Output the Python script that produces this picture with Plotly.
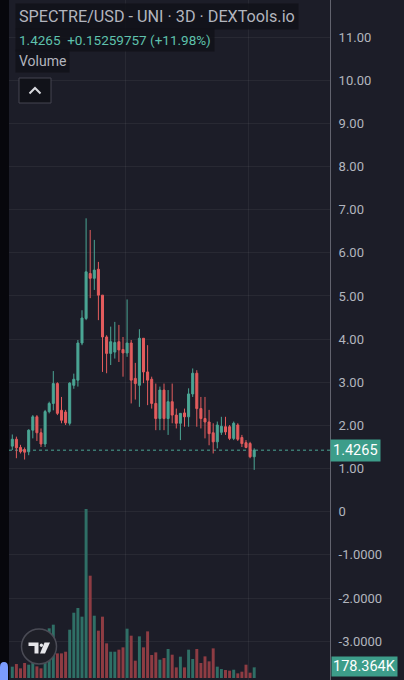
import plotly.graph_objects as go

# ---------------- data ----------------
candle_idx = list(range(1, 61))
opens  = [1.52,1.68,1.49,1.44,1.39,1.89,2.20,1.83,1.57,2.32,2.51,2.97,2.35,2.31,2.05,2.93,3.05,3.91,4.48,5.52,
          5.41,5.62,5.02,4.05,3.67,3.70,3.94,3.76,3.68,3.91,3.09,2.93,4.02,3.24,3.07,2.51,2.16,2.82,2.16,2.55,
          2.24,2.05,2.29,2.20,2.73,3.21,2.39,2.16,2.08,1.83,1.62,1.84,1.97,1.97,1.70,2.01,1.72,1.60,1.58,1.2739]
highs  = [1.79,1.74,1.55,1.49,1.91,2.24,2.24,1.93,2.36,2.55,3.26,3.00,2.66,2.36,3.00,3.20,3.98,4.67,6.80,6.53,
          6.30,5.79,5.02,4.09,4.29,4.40,4.33,4.05,4.92,3.98,3.45,4.23,4.02,3.86,3.13,2.97,2.90,2.97,2.82,2.97,
          2.39,2.28,2.39,2.86,3.32,3.28,2.66,2.66,2.36,2.05,2.09,2.20,2.20,2.01,2.09,2.05,1.78,1.66,1.62,1.47]
lows   = [1.43,1.24,1.35,1.21,1.31,1.70,1.64,1.50,1.50,2.28,2.35,2.24,2.05,2.01,2.00,2.85,2.90,3.86,4.44,4.95,
          5.14,4.44,3.24,3.21,3.40,3.55,3.47,3.13,3.59,2.51,2.60,2.43,2.98,2.47,2.39,1.89,1.89,1.89,1.78,2.05,
          1.93,1.66,1.97,1.97,2.66,1.97,1.93,1.70,1.54,1.35,1.47,1.78,1.78,1.66,1.66,1.64,1.50,1.47,1.24,0.97]
closes = [1.68,1.48,1.39,1.38,1.89,2.20,1.83,1.57,2.32,2.51,2.97,2.28,2.12,2.06,2.98,3.07,3.91,4.49,5.56,5.41,
          5.60,5.02,4.05,3.67,3.94,3.92,3.75,3.68,3.91,3.05,2.97,4.02,3.24,3.05,2.51,2.16,2.82,2.16,2.55,2.24,
          2.05,2.28,2.20,2.73,3.21,2.39,2.16,2.08,1.81,1.62,2.01,1.98,1.85,1.70,2.05,1.68,1.58,1.49,1.2739,1.4265]
volume_k = [190,234,162,251,223,251,195,162,262,831,892,412,412,440,808,1092,1171,1026,2826,1711,
            1042,792,1026,580,440,440,474,513,825,708,290,697,513,780,385,429,307,334,485,390,
            178,357,178,474,318,485,251,362,279,496,190,150,134,123,139,78,106,223,89,178.364]

y_tickvals = [-3, -2, -1, 0, 1, 2, 3, 4, 5, 6, 7, 8, 9, 10, 11]
y_ticktext = ["-3.0000", "-2.0000", "-1.0000", "0", "1.00", "2.00", "3.00", "4.00", "5.00",
              "6.00", "7.00", "8.00", "9.00", "10.00", "11.00"]

title_text = "SPECTRE/USD - UNI · 3D · DEXTools.io"
change_text = "1.4265  +0.15259757 (+11.98%)"
volume_label = "Volume"
last_price_text = "1.4265"
last_volume_text = "178.364K"

# ---------------- style ----------------
BG = "#1c1d28"
GREEN = "#4ba694"
RED = "#e35c5d"
VGREEN = "#2f6f66"
VRED = "#8e3c43"
TXT = "#b2b5be"
GRID = "rgba(255,255,255,0.055)"
FONT = "Roboto"

W, H = 404, 680
ML, MR, MT, MB = 9, 74, 0, 0
PW = W - ML - MR
PH = H - MT - MB


def px(x):
    return (x - ML) / PW


def py(y):
    return 1 - (y - MT) / PH


vol_colors = [VGREEN if c >= o else VRED for o, c in zip(opens, closes)]

fig = go.Figure()
fig.add_trace(go.Bar(
    x=candle_idx, y=volume_k, yaxis="y2", marker=dict(color=vol_colors, line=dict(width=0)),
    width=0.72, showlegend=False, hoverinfo="skip"))
fig.add_trace(go.Candlestick(
    x=candle_idx, open=opens, high=highs, low=lows, close=closes,
    increasing=dict(line=dict(color=GREEN, width=1), fillcolor=GREEN),
    decreasing=dict(line=dict(color=RED, width=1), fillcolor=RED),
    whiskerwidth=0, showlegend=False, hoverinfo="skip"))

last_close = closes[-1]

shapes = [
    # left dark strip
    dict(type="rect", xref="paper", yref="paper", x0=px(0), x1=px(ML), y0=0, y1=1,
         fillcolor="#07070c", line=dict(width=0), layer="above"),
    # blue marker bottom-left (rounded)
    dict(type="path", xref="paper", yref="paper",
         path=(f"M {px(0)} {py(681)} L {px(0)} {py(667)} Q {px(0)} {py(662)} {px(4)} {py(662)} "
               f"Q {px(8)} {py(662)} {px(8)} {py(667)} L {px(8)} {py(681)} Z"),
         fillcolor="#7b9cff", line=dict(width=0), layer="above"),
    # last price dotted line
    dict(type="line", xref="paper", yref="y", x0=0, x1=1, y0=last_close, y1=last_close,
         line=dict(color=GREEN, width=1, dash="dot"), layer="below"),
    # collapse button
    dict(type="rect", xref="paper", yref="paper", x0=px(19), x1=px(51), y0=py(103), y1=py(78),
         fillcolor="#111219", line=dict(color="#444550", width=1), layer="above"),
    dict(type="path", xref="paper", yref="paper",
         path=f"M {px(29.5)} {py(93.5)} L {px(35)} {py(88)} L {px(40.5)} {py(93.5)}",
         line=dict(color="#d8d9de", width=2), layer="above"),
    # TradingView logo
    dict(type="circle", xref="paper", yref="paper", x0=px(21.5), x1=px(56.5), y0=py(664), y1=py(629),
         fillcolor="#1e1f27", line=dict(color="#4a4b55", width=1.5), layer="above"),
    dict(type="path", xref="paper", yref="paper",
         path=(f"M {px(28.5)} {py(642.5)} L {px(38.5)} {py(642.5)} L {px(38.5)} {py(653.5)} "
               f"L {px(34.5)} {py(653.5)} L {px(34.5)} {py(646)} L {px(28.5)} {py(646)} Z"),
         fillcolor="#e6e6ea", line=dict(width=0), layer="above"),
    dict(type="circle", xref="paper", yref="paper", x0=px(39.8), x1=px(43), y0=py(647), y1=py(643.5),
         fillcolor="#e6e6ea", line=dict(width=0), layer="above"),
    dict(type="path", xref="paper", yref="paper",
         path=(f"M {px(44.5)} {py(642.5)} L {px(50)} {py(642.5)} L {px(45)} {py(653.5)} "
               f"L {px(40)} {py(653.5)} Z"),
         fillcolor="#e6e6ea", line=dict(width=0), layer="above"),
]

annotations = [
    dict(xref="paper", yref="paper", x=px(15), y=py(16), xanchor="left", yanchor="middle",
         text=title_text, showarrow=False, font=dict(family=FONT, size=16.2, color=TXT),
         bgcolor="rgba(17,18,25,0.85)", borderpad=3),
    dict(xref="paper", yref="paper", x=px(15), y=py(39.5), xanchor="left", yanchor="middle",
         text=change_text, showarrow=False, font=dict(family=FONT, size=13.5, color="#5fc2ad"),
         bgcolor="rgba(17,18,25,0.85)", borderpad=3),
    dict(xref="paper", yref="paper", x=px(15), y=py(61), xanchor="left", yanchor="middle",
         text=volume_label, showarrow=False, font=dict(family=FONT, size=14, color=TXT),
         bgcolor="rgba(17,18,25,0.85)", borderpad=3),
    dict(xref="paper", yref="y", x=1, y=last_close, xanchor="left", yanchor="middle",
         text=last_price_text, showarrow=False, font=dict(family=FONT, size=14.5, color="#ffffff"),
         bgcolor="#3d9d8a", borderpad=2, xshift=0),
    dict(xref="paper", yref="paper", x=1, y=py(666.5), xanchor="left", yanchor="middle",
         text=last_volume_text, showarrow=False, font=dict(family=FONT, size=14.5, color="#ffffff"),
         bgcolor="#3d9d8a", borderpad=1, xshift=1),
]

fig.update_layout(
    width=W, height=H,
    margin=dict(l=ML, r=MR, t=MT, b=MB, pad=0),
    paper_bgcolor=BG, plot_bgcolor=BG,
    showlegend=False,
    boxgap=0.3,
    xaxis=dict(range=[0.195, 78.49], showticklabels=False, ticks="",
               tickvals=[28.5, 58.5], showgrid=True, gridcolor=GRID, gridwidth=1,
               zeroline=False, showline=False, rangeslider=dict(visible=False), fixedrange=True),
    yaxis=dict(side="right", range=[-3.90, 11.86], tickvals=y_tickvals, ticktext=y_ticktext,
               showgrid=True, gridcolor=GRID, gridwidth=1, zeroline=False,
               showline=True, linecolor="#62636e", linewidth=1,
               ticks="outside", ticklen=5, tickcolor="rgba(0,0,0,0)",
               tickfont=dict(family=FONT, size=13, color=TXT), fixedrange=True),
    yaxis2=dict(overlaying="y", range=[-33, 11336], visible=False, fixedrange=True),
    shapes=shapes,
    annotations=annotations,
)

fig.write_html(
    "out.html",
    config={"displayModeBar": False},
    post_script="document.body.style.margin='0';document.body.style.overflow='hidden';",
)
